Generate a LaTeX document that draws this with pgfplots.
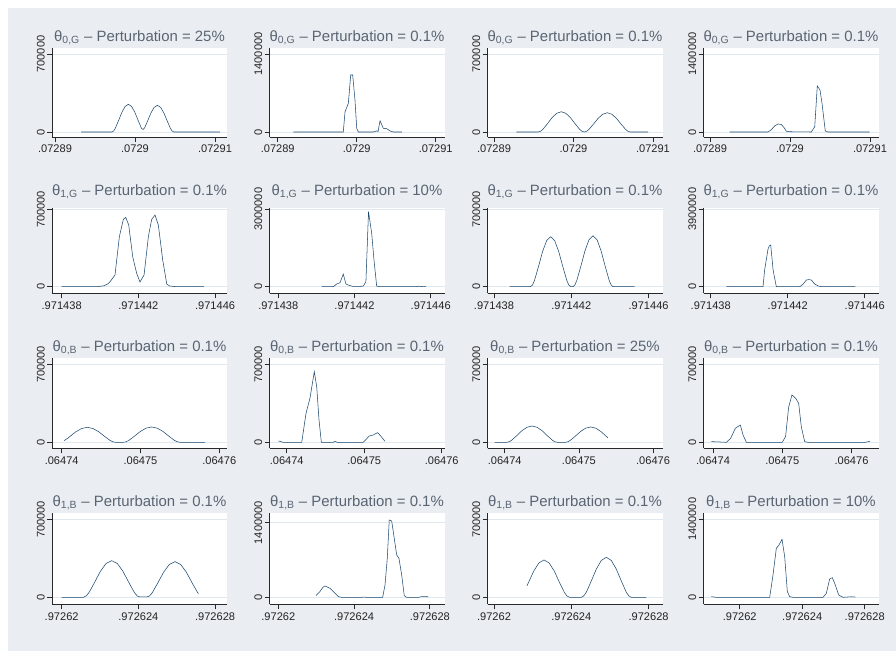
\documentclass[border=0pt]{standalone}
\usepackage{fontspec}
\setmainfont{Liberation Sans}
\usepackage{pgfplots}
\pgfplotsset{compat=1.18}
\definecolor{bg}{RGB}{234,238,242}
\definecolor{navy}{RGB}{26,71,111}
\definecolor{titc}{RGB}{90,100,114}
\definecolor{labc}{RGB}{35,35,35}
\definecolor{axc}{RGB}{40,40,40}
\definecolor{gridc}{RGB}{222,232,238}
% x values are offsets in tick steps: x = (theta - first tick)/tick step
\pgfplotsset{
  panel/.style={
    scale only axis, width=131.25pt, anchor=south west,
    axis x line*=bottom, axis y line*=left,
    axis line style={draw=axc, line width=0.6pt, -},
    tick align=outside, major tick length=3.75pt,
    major tick style={draw=axc, line width=0.6pt},
    xtick={0,1,2}, scaled y ticks=false, scaled x ticks=false,
    ymajorgrids, grid style={draw=gridc, line width=0.6pt},
    tick label style={font=\fontsize{8.3}{10}\selectfont, text=labc},
    yticklabel style={xshift=1.9pt, rotate=90, anchor=south},
    xticklabel style={yshift=1.2pt},
    axis background/.style={fill=white},
    title style={at={(0.5,1)}, anchor=base, yshift=-1pt, font=\fontsize{11.2}{13}\selectfont, text=titc},
    cycle list={{draw=navy, line width=0.6pt, mark=none}},
  },
  row1/.style={height=66.75pt, xticklabels={.07289,.0729,.07291}, ymin=-0.0641*#1, ymax=1.0769*#1, ytick={0,#1}, yticklabels={0,#1}},
  row2/.style={height=63.975pt, xticklabels={.971438,.971442,.971446}, ymin=-0.0853*#1, ymax=1.0168*#1, ytick={0,#1}, yticklabels={0,#1}, title style={yshift=4.4pt}},
  row3/.style={height=67.5pt, xticklabels={.06474,.06475,.06476}, ymin=-0.0769*#1, ymax=1.0769*#1, ytick={0,#1}, yticklabels={0,#1}},
  row4/.style={height=68.25pt, xticklabels={.97262,.972624,.972628}, ymin=-0.0897*#1, ymax=1.0769*#1, ytick={0,#1}, yticklabels={0,#1}},
}
\def\cA{39pt}\def\cB{202.125pt}\def\cC{365.625pt}\def\cD{527.625pt}
\def\rA{-102.75pt}\def\rB{-219.975pt}\def\rC{-336.225pt}\def\rD{-453.225pt}
\begin{document}
\begin{tikzpicture}
\fill[white] (0,0) rectangle (672pt,-488.25pt);
\fill[bg] (6pt,-6pt) rectangle (672pt,-488.25pt);
% ---------- row 1 ----------
\begin{axis}[panel,row1=700000,at={(\cA,\rA)},xmin=-0.0375,xmax=2.15,
  title={θ\textsubscript{0,G} – Perturbation = 25\%}]
\addplot coordinates {(0.325,0) (0.712,0) (0.7325,9000) (0.753,32200) (0.794,101800) (0.835,175400) (0.876,229100) (0.917,248600) (0.958,229100) (0.999,175400) (1.040,101800) (1.081,33000) (1.10,22700) (1.119,35200) (1.157,98100) (1.198,169100) (1.239,220800) (1.28,239600) (1.321,220800) (1.362,169100) (1.403,98100) (1.444,31100) (1.4645,8600) (1.485,0) (2.06,0)};
\end{axis}
\begin{axis}[panel,row1=1400000,at={(\cB,\rA)},xmin=-0.104,xmax=2.111,
  title={θ\textsubscript{0,G} – Perturbation = 0.1\%}]
\addplot coordinates {(0.197,0) (0.83,0) (0.852,364000) (0.894,515000) (0.924,1023000) (0.949,1023000) (0.978,574000) (1.0,66000) (1.02,0) (1.21,0) (1.25,20000) (1.27,10000) (1.295,203000) (1.337,66000) (1.38,60000) (1.42,20000) (1.463,0) (1.57,0)};
\end{axis}
\begin{axis}[panel,row1=700000,at={(\cC,\rA)},xmin=-0.082,xmax=2.12,
  title={θ\textsubscript{0,G} – Perturbation = 0.1\%}]
\addplot coordinates {(0.28,0) (0.556,0) (0.585,6600) (0.614,23600) (0.672,74500) (0.730,128400) (0.788,167700) (0.846,182000) (0.904,167700) (0.962,128400) (1.020,74500) (1.078,23600) (1.107,6600) (1.136,0) (1.164,6200) (1.193,22400) (1.251,70900) (1.309,122100) (1.367,159400) (1.425,173000) (1.483,159400) (1.541,122100) (1.599,70900) (1.657,22400) (1.686,6200) (1.715,0) (1.94,0)};
\end{axis}
\begin{axis}[panel,row1=1400000,at={(\cD,\rA)},xmin=-0.081,xmax=2.106,
  title={θ\textsubscript{0,G} – Perturbation = 0.1\%}]
\addplot coordinates {(0.246,0) (0.725,0) (0.766,40000) (0.809,110000) (0.85,143600) (0.891,135000) (0.925,80000) (0.954,15000) (0.99,5000) (1.1,3000) (1.266,0) (1.309,95000) (1.341,826000) (1.375,754000) (1.40,515000) (1.441,18000) (1.475,0) (1.996,0)};
\end{axis}
% ---------- row 2 ----------
\begin{axis}[panel,row2=700000,at={(\cA,\rB)},xmin=-0.126,xmax=2.155,
  title={θ\textsubscript{1,G} – Perturbation = 0.1\%}]
\addplot coordinates {(0,0) (0.456,0) (0.55,8000) (0.60,25000) (0.63,45000) (0.695,105000) (0.752,452000) (0.804,609000) (0.835,627000) (0.874,558000) (0.926,271000) (0.978,120000) (1.021,42000) (1.074,106000) (1.13,452000) (1.173,609000) (1.217,648000) (1.26,558000) (1.317,241000) (1.37,24000) (1.41,6000) (1.5,0) (1.855,0)};
\end{axis}
\begin{axis}[panel,row2=3000000,at={(\cB,\rB)},xmin=-0.115,xmax=2.181,
  title={θ\textsubscript{1,G} – Perturbation = 10\%}]
\addplot coordinates {(0.57,0) (0.722,0) (0.766,103000) (0.81,155000) (0.853,491000) (0.888,103000) (0.932,52000) (0.984,10000) (1.115,20000) (1.15,194000) (1.184,2907000) (1.226,2067000) (1.256,1034000) (1.291,26000) (1.335,0) (1.80,0) (1.85,20000) (1.90,0) (1.94,0)};
\end{axis}
\begin{axis}[panel,row2=700000,at={(\cC,\rB)},xmin=-0.084,xmax=2.18,
  title={θ\textsubscript{1,G} – Perturbation = 0.1\%}]
\addplot coordinates {(0.203,0) (0.473,0) (0.499,16300) (0.525,58600) (0.577,185100) (0.629,318900) (0.681,416600) (0.733,452000) (0.785,416600) (0.837,318900) (0.889,185100) (0.941,58600) (0.967,16300) (0.993,0) (1.021,0) (1.047,16600) (1.073,59700) (1.125,188800) (1.177,325300) (1.229,424900) (1.281,461000) (1.333,424900) (1.385,325300) (1.437,188800) (1.489,59700) (1.515,16600) (1.541,0) (1.82,0)};
\end{axis}
\begin{axis}[panel,row2=3900000,at={(\cD,\rB)},xmin=-0.094,xmax=2.179,
  title={θ\textsubscript{1,G} – Perturbation = 0.1\%}]
\addplot coordinates {(0.203,0) (0.679,0) (0.70,840000) (0.744,1900000) (0.76,2050000) (0.779,2100000) (0.81,840000) (0.852,0) (1.156,0) (1.20,134000) (1.242,336000) (1.275,360000) (1.307,336000) (1.35,134000) (1.394,40000) (1.437,0) (1.878,0)};
\end{axis}
% ---------- row 3 ----------
\begin{axis}[panel,row3=700000,at={(\cA,\rC)},xmin=-0.123,xmax=2.098,
  title={θ\textsubscript{0,B} – Perturbation = 0.1\%}]
\addplot coordinates {(0.03,14400) (0.073,35000) (0.109,55100) (0.181,95000) (0.253,124000) (0.325,134600) (0.397,124000) (0.469,95000) (0.541,55100) (0.613,17400) (0.649,4900) (0.685,0) (0.782,0) (0.818,5000) (0.854,17800) (0.926,56400) (0.998,97200) (1.070,126900) (1.142,137700) (1.214,126900) (1.286,97200) (1.358,56400) (1.430,17800) (1.466,5000) (1.502,0) (1.82,0)};
\end{axis}
\begin{axis}[panel,row3=700000,at={(\cB,\rC)},xmin=-0.222,xmax=2.036,
  title={θ\textsubscript{0,B} – Perturbation = 0.1\%}]
\addplot coordinates {(-0.108,12000) (-0.044,0) (0.194,0) (0.249,260000) (0.30,395000) (0.356,634000) (0.387,500000) (0.417,200000) (0.447,0) (0.60,0) (0.623,9000) (0.65,0) (0.987,0) (1.066,57000) (1.117,66000) (1.174,87000) (1.213,57000) (1.268,9000)};
\end{axis}
\begin{axis}[panel,row3=700000,at={(\cC,\rC)},xmin=-0.232,xmax=2.127,
  title={θ\textsubscript{0,B} – Perturbation = 25\%}]
\addplot coordinates {(-0.135,0) (0.026,0) (0.060,5300) (0.094,19000) (0.163,60000) (0.231,103400) (0.300,135100) (0.368,146600) (0.436,135100) (0.505,103400) (0.573,60000) (0.642,19000) (0.676,5300) (0.710,0) (0.817,0) (0.851,5000) (0.885,17800) (0.954,56400) (1.022,97200) (1.091,126900) (1.159,137700) (1.227,126900) (1.296,97200) (1.364,56400) (1.392,39500)};
\end{axis}
\begin{axis}[panel,row3=700000,at={(\cD,\rC)},xmin=-0.137,xmax=2.39,
  title={θ\textsubscript{0,B} – Perturbation = 0.1\%}]
\addplot coordinates {(-0.025,6000) (0.097,3000) (0.193,0) (0.256,36000) (0.322,126000) (0.395,155000) (0.434,66000) (0.482,0) (1.0,0) (1.048,51000) (1.092,314000) (1.14,425000) (1.194,395000) (1.237,350000) (1.275,141000) (1.324,6000) (1.37,0) (2.2,0) (2.265,9000)};
\end{axis}
% ---------- row 4 ----------
\begin{axis}[panel,row4=700000,at={(\cA,\rD)},xmin=-0.126,xmax=2.155,
  title={θ\textsubscript{1,B} – Perturbation = 0.1\%}]
\addplot coordinates {(0,0) (0.282,0) (0.319,11900) (0.356,42600) (0.43,134800) (0.504,232100) (0.578,303200) (0.652,329000) (0.726,303200) (0.8,232100) (0.874,134800) (0.948,42600) (0.985,11900) (1.022,3000) (1.107,3000) (1.144,11600) (1.181,41500) (1.255,131100) (1.329,225800) (1.403,294900) (1.477,320000) (1.551,294900) (1.625,225800) (1.699,131100) (1.773,41500) (1.782,33000)};
\end{axis}
\begin{axis}[panel,row4=1400000,at={(\cB,\rD)},xmin=-0.116,xmax=2.193,ymin=-131320,ymax=1576400,
  title={θ\textsubscript{1,B} – Perturbation = 0.1\%}]
\addplot coordinates {(0.497,31000) (0.55,110000) (0.59,190000) (0.616,213000) (0.682,169000) (0.726,106000) (0.792,13000) (0.836,0) (1.10,0) (1.13,5000) (1.16,0) (1.377,0) (1.408,231000) (1.438,732000) (1.464,1451000) (1.496,1432000) (1.53,1107000) (1.562,794000) (1.592,732000) (1.628,419000) (1.662,31000) (1.694,0) (1.85,0) (1.892,13000) (1.98,10000)};
\end{axis}
\begin{axis}[panel,row4=700000,at={(\cC,\rD)},xmin=-0.084,xmax=2.18,
  title={θ\textsubscript{1,B} – Perturbation = 0.1\%}]
\addplot coordinates {(0.427,103500) (0.449,137200) (0.515,236400) (0.581,308700) (0.647,335000) (0.713,308700) (0.779,236400) (0.845,137200) (0.911,43400) (0.944,12100) (0.977,0) (1.130,0) (1.162,13000) (1.195,46500) (1.259,147000) (1.324,253300) (1.388,330900) (1.453,359000) (1.518,330900) (1.582,253300) (1.647,147000) (1.711,46500) (1.744,13000) (1.776,0) (1.97,0)};
\end{axis}
\begin{axis}[panel,row4=1400000,at={(\cD,\rD)},xmin=-0.579,xmax=2.221,
  title={θ\textsubscript{1,B} – Perturbation = 10\%}]
\addplot coordinates {(-0.454,12000) (-0.374,0) (0.48,0) (0.533,400000) (0.586,880000) (0.629,939000) (0.677,1041000) (0.72,730000) (0.762,102000) (0.8,12000) (0.853,0) (1.333,0) (1.386,72000) (1.44,329000) (1.482,353000) (1.52,251000) (1.584,42000) (1.653,0) (1.733,6000) (1.786,10000) (1.85,5000)};
\end{axis}
\end{tikzpicture}
\end{document}
